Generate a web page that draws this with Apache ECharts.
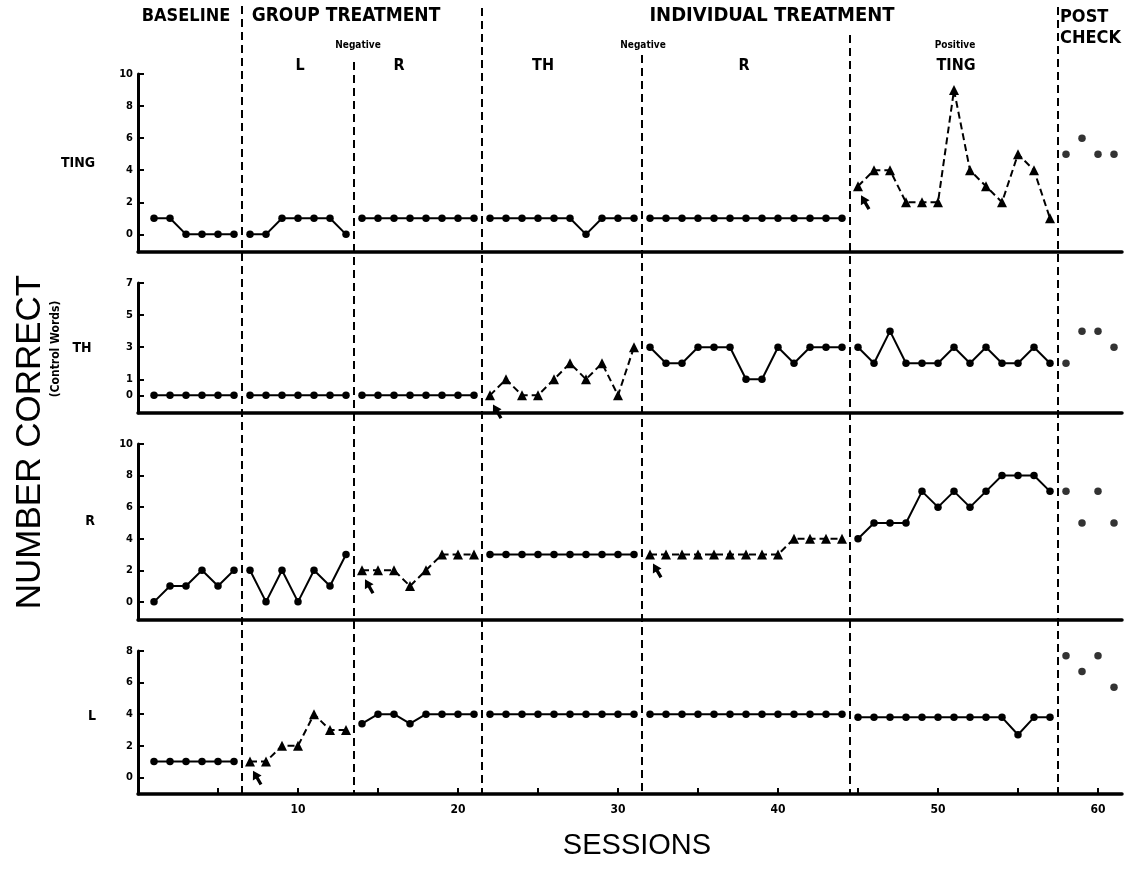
<!DOCTYPE html>
<html><head><meta charset="utf-8">
<script src="https://cdn.jsdelivr.net/npm/echarts@6/dist/echarts.min.js"></script>
<style>html,body{margin:0;padding:0;background:#fff}#c{width:1137px;height:887px}</style>
</head><body><div id="c"></div>
<script>
// ---------- data ----------
const panelNames = ['TING', 'TH', 'R', 'L'];
const phaseStarts = [1, 7, 14, 22, 32, 45, 58];          // first session of each phase
const phaseBoundaries = [6.5, 13.5, 21.5, 31.5, 44.5, 57.5];
const xTickLabels = [10, 20, 30, 40, 50, 60];
const xMinorTicks = [5, 10, 15, 20, 25, 30, 35, 40, 45, 50, 55, 60];
const tingTicks = [0, 2, 4, 6, 8, 10];
const thTicks = [0, 1, 3, 5, 7];
const rTicks = [0, 2, 4, 6, 8, 10];
const lTicks = [0, 2, 4, 6, 8];

// phases: baseline, group L, group R, individual TH, individual R, individual TING, post check
const tingValues = [
  [1, 1, 0, 0, 0, 0],
  [0, 0, 1, 1, 1, 1, 0],
  [1, 1, 1, 1, 1, 1, 1, 1],
  [1, 1, 1, 1, 1, 1, 0, 1, 1, 1],
  [1, 1, 1, 1, 1, 1, 1, 1, 1, 1, 1, 1, 1],
  [3, 4, 4, 2, 2, 2, 9, 4, 3, 2, 5, 4, 1],
  [5, 6, 5, 5]
];
const thValues = [
  [0, 0, 0, 0, 0, 0],
  [0, 0, 0, 0, 0, 0, 0],
  [0, 0, 0, 0, 0, 0, 0, 0],
  [0, 1, 0, 0, 1, 2, 1, 2, 0, 3],
  [3, 2, 2, 3, 3, 3, 1, 1, 3, 2, 3, 3, 3],
  [3, 2, 4, 2, 2, 2, 3, 2, 3, 2, 2, 3, 2],
  [2, 4, 4, 3]
];
const rValues = [
  [0, 1, 1, 2, 1, 2],
  [2, 0, 2, 0, 2, 1, 3],
  [2, 2, 2, 1, 2, 3, 3, 3],
  [3, 3, 3, 3, 3, 3, 3, 3, 3, 3],
  [3, 3, 3, 3, 3, 3, 3, 3, 3, 4, 4, 4, 4],
  [4, 5, 5, 5, 7, 6, 7, 6, 7, 8, 8, 8, 7],
  [7, 5, 7, 5]
];
const lValues = [
  [1, 1, 1, 1, 1, 1],
  [1, 1, 2, 2, 4, 3, 3],
  [3.4, 4, 4, 3.4, 4, 4, 4, 4],
  [4, 4, 4, 4, 4, 4, 4, 4, 4, 4],
  [4, 4, 4, 4, 4, 4, 4, 4, 4, 4, 4, 4, 4],
  [3.8, 3.8, 3.8, 3.8, 3.8, 3.8, 3.8, 3.8, 3.8, 3.8, 2.7, 3.8, 3.8],
  [7.7, 6.7, 7.7, 5.7]
];
// which phase of each panel is the trained (triangle, dashed) series
const tingTreated = [5];
const thTreated = [3];
const rTreated = [2, 4];
const lTreated = [1];

// ---------- layout / style ----------
const FONT_C = "'DejaVu Sans Condensed','Liberation Sans Narrow',sans-serif";
const X_MIN = 0, X_MAX = 61.5, LEFT = 138, RIGHT = 15;
const panels = [
  {values: tingValues, treated: tingTreated, ticks: tingTicks, top: 74, height: 178, min: -1.1, max: 10, label: [78, 163]},
  {values: thValues, treated: thTreated, ticks: thTicks, top: 283, height: 130, min: -1.1, max: 7, label: [82, 348]},
  {values: rValues, treated: rTreated, ticks: rTicks, top: 444, height: 176, min: -1.15, max: 10, label: [90, 521]},
  {values: lValues, treated: lTreated, ticks: lTicks, top: 651, height: 143, min: -1.05, max: 8, label: [92, 716]}
];
const boundaryTops = [6, 62, 8, 55, 35, 7];
const boundaryBottom = 795;
const arrowPath = 'path://M5.5,0 L11,9 L7.3,9 L7.3,17 L3.7,17 L3.7,9 L0,9 Z';

const grids = [], xAxes = [], yAxes = [], series = [];
panels.forEach((p, pi) => {
  grids.push({left: LEFT, right: RIGHT, top: p.top, height: p.height});
  const isLast = pi === panels.length - 1;
  xAxes.push({
    type: 'value', gridIndex: pi, min: X_MIN, max: X_MAX, position: 'bottom',
    axisLine: {show: true, onZero: false, lineStyle: {color: '#000', width: 3.5}},
    axisTick: {show: isLast, inside: true, length: 6, customValues: xMinorTicks, lineStyle: {color: '#000', width: 2}},
    axisLabel: {show: isLast, customValues: xTickLabels, color: '#000', fontFamily: FONT_C, fontWeight: 'bold', fontSize: 12, margin: 10},
    splitLine: {show: false}
  });
  yAxes.push({
    type: 'value', gridIndex: pi, min: p.min, max: p.max,
    axisLine: {show: true, lineStyle: {color: '#000', width: 3}},
    axisTick: {show: true, inside: true, length: 6, customValues: p.ticks, lineStyle: {color: '#000', width: 2}},
    axisLabel: {show: true, customValues: p.ticks, color: '#000', fontFamily: FONT_C, fontWeight: 'bold', fontSize: 11, margin: 5},
    splitLine: {show: false}
  });
  p.values.forEach((vals, k) => {
    const data = vals.map((v, i) => [phaseStarts[k] + i, v]);
    const treated = p.treated.indexOf(k) >= 0;
    const isPost = k === p.values.length - 1;
    const s = {
      type: isPost ? 'scatter' : 'line', xAxisIndex: pi, yAxisIndex: pi, data: data,
      symbol: treated ? 'triangle' : 'circle', symbolSize: treated ? 10 : 7.5,
      itemStyle: {color: '#000'}, silent: true, animation: false, z: 3
    };
    if (!isPost) s.lineStyle = {color: '#000', width: 2, type: treated ? [7, 4] : 'solid'};
    if (treated) {
      s.markPoint = {
        symbol: arrowPath, symbolSize: [10, 16], symbolRotate: 30, symbolOffset: [7, 16],
        itemStyle: {color: '#000'}, label: {show: false}, silent: true,
        data: [{coord: data[0]}]
      };
    }
    series.push(s);
  });
});

// overlay grid for phase boundary lines
const OV = panels.length;
grids.push({left: LEFT, right: RIGHT, top: 0, height: 887});
xAxes.push({type: 'value', gridIndex: OV, min: X_MIN, max: X_MAX, show: false});
yAxes.push({type: 'value', gridIndex: OV, min: 0, max: 887, inverse: true, show: false});
phaseBoundaries.forEach((b, i) => {
  series.push({
    type: 'line', xAxisIndex: OV, yAxisIndex: OV, symbol: 'none', silent: true, animation: false, z: 1,
    data: [[b, boundaryTops[i]], [b, boundaryBottom]],
    lineStyle: {color: '#000', width: 2, type: [8, 5]}
  });
});

const txt = (x, y, text, size, opts) => Object.assign({
  type: 'text', x: x, y: y,
  style: Object.assign({text: text, fill: '#000', font: 'bold ' + size + 'px ' + FONT_C, textAlign: 'center', textVerticalAlign: 'middle'}, (opts && opts.style) || {})
}, opts && opts.rotation ? {rotation: opts.rotation} : {});

const graphics = [
  txt(186, 16, 'BASELINE', 18),
  txt(346, 16, 'GROUP TREATMENT', 19),
  txt(772, 16, 'INDIVIDUAL TREATMENT', 20),
  txt(1060, 17, 'POST', 18, {style: {textAlign: 'left'}}),
  txt(1060, 38, 'CHECK', 18, {style: {textAlign: 'left'}}),
  txt(358, 45, 'Negative', 10),
  txt(643, 45, 'Negative', 10),
  txt(955, 45, 'Positive', 10),
  txt(300, 66, 'L', 16),
  txt(399, 66, 'R', 16),
  txt(543, 66, 'TH', 16),
  txt(744, 66, 'R', 16),
  txt(956, 66, 'TING', 16),
  {type: 'text', x: 30, y: 442, rotation: Math.PI / 2,
   style: {text: 'NUMBER CORRECT', fill: '#000', font: '35px "Liberation Sans", Arial, sans-serif', textAlign: 'center', textVerticalAlign: 'middle'}},
  txt(56, 349, '(Control Words)', 12, {rotation: Math.PI / 2}),
  {type: 'text', x: 637, y: 846,
   style: {text: 'SESSIONS', fill: '#000', font: '29px "Liberation Sans", Arial, sans-serif', textAlign: 'center', textVerticalAlign: 'middle'}}
];
panels.forEach((p, pi) => {
  graphics.push(txt(p.label[0], p.label[1], panelNames[pi], 14));
});

const chart = echarts.init(document.getElementById('c'), null, {renderer: 'canvas'});
chart.setOption({
  backgroundColor: '#fff',
  animation: false,
  grid: grids, xAxis: xAxes, yAxis: yAxes, series: series,
  graphic: graphics
});
</script>
</body></html>
